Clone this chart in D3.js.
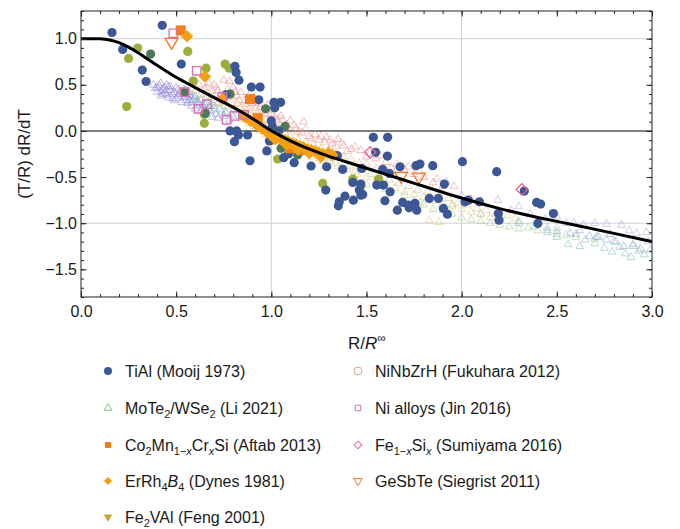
<!DOCTYPE html>
<html>
<head>
<meta charset="utf-8">
<script src="https://cdn.jsdelivr.net/npm/d3@7"></script>
<style>
  body { margin: 0; background: #fff; }
  svg text { font-family: "Liberation Sans", Arial, sans-serif; fill: #1a1a1a; }
</style>
</head>
<body>
<div id="chart"></div>
<script>
// ---- data: [R/R∞, (T/R) dR/dT] ----
const curveR = [0, 0.05, 0.1, 0.15, 0.2, 0.25, 0.3, 0.35, 0.4, 0.45, 0.5, 0.55, 0.6, 0.65, 0.7, 0.75, 0.8, 0.85, 0.9, 0.95, 1.0, 1.1, 1.2, 1.3, 1.4, 1.5, 1.6, 1.7, 1.8, 1.9, 2.0, 2.2, 2.4, 2.6, 2.8, 3.0];
const curveV = [1, 1, 1, 0.99, 0.96, 0.91, 0.85, 0.78, 0.71, 0.645, 0.58, 0.525, 0.47, 0.415, 0.36, 0.31, 0.256, 0.198, 0.137, 0.068, 0, -0.11, -0.2, -0.275, -0.34, -0.405, -0.47, -0.535, -0.6, -0.665, -0.73, -0.845, -0.94, -1.02, -1.11, -1.2];

// MoTe2/WSe2 (Li 2021), several sample sets
const triPurpleL = [[0.39,0.46],[0.40,0.42],[0.41,0.49],[0.42,0.38],[0.43,0.45],[0.44,0.41],[0.45,0.50],[0.46,0.36],[0.47,0.44],[0.48,0.40],[0.49,0.33],[0.50,0.47],[0.51,0.38],[0.52,0.43],[0.53,0.31],[0.54,0.36],[0.55,0.44],[0.56,0.30],[0.57,0.39],[0.58,0.27],[0.59,0.34],[0.60,0.24],[0.62,0.30],[0.63,0.21],[0.65,0.18],[0.67,0.25],[0.69,0.15],[0.72,0.14],[0.44,0.47],[0.48,0.35]];
const triPurpleL2 = [[0.38,0.50],[0.40,0.47],[0.42,0.52],[0.43,0.40],[0.45,0.44],[0.46,0.48],[0.49,0.42],[0.51,0.45],[0.53,0.40],[0.55,0.37],[0.57,0.33],[0.59,0.38],[0.61,0.31],[0.64,0.28],[0.66,0.22],[0.68,0.27]];
const triBlueL = [[0.42,0.43],[0.45,0.39],[0.47,0.48],[0.50,0.35],[0.52,0.40],[0.54,0.45],[0.55,0.33],[0.57,0.42],[0.58,0.31],[0.60,0.37],[0.61,0.28],[0.63,0.34],[0.64,0.25],[0.66,0.31],[0.68,0.22],[0.70,0.27],[0.71,0.18],[0.73,0.23],[0.75,0.16],[0.78,0.12],[0.80,0.16],[0.76,0.20]];
const triTealL = [[0.55,0.40],[0.58,0.36],[0.61,0.33],[0.63,0.39],[0.65,0.29],[0.68,0.33],[0.70,0.24],[0.72,0.30],[0.74,0.21],[0.77,0.26],[0.79,0.18],[0.82,0.22],[0.84,0.14],[0.87,0.17],[0.90,0.10],[0.93,0.12],[0.96,0.05],[0.98,0.0]];
const triYellowL = [[0.60,0.44],[0.63,0.40],[0.66,0.36],[0.69,0.38],[0.71,0.31],[0.74,0.33],[0.76,0.28],[0.79,0.30],[0.81,0.23],[0.84,0.25],[0.86,0.19],[0.89,0.20],[0.92,0.14],[0.95,0.10],[0.98,0.06],[1.0,0.02]];
const triRed = [[0.62,0.50],[0.65,0.46],[0.67,0.52],[0.70,0.50],[0.72,0.44],[0.75,0.55],[0.78,0.54],[0.76,0.40],[0.80,0.47],[0.82,0.38],[0.84,0.42],[0.86,0.33],[0.88,0.38],[0.90,0.30],[0.91,0.36],[0.94,0.26],[0.96,0.22],[0.98,0.28],[1.0,0.18],[1.03,0.12],[1.05,0.16],[1.08,0.07],[1.10,0.11],[1.13,0.03],[1.17,0.10],[1.16,-0.02],[1.20,-0.06],[1.23,-0.04],[1.25,-0.10],[1.29,-0.07],[1.32,-0.14],[1.35,-0.09],[1.38,-0.16],[1.42,-0.20],[1.47,-0.21],[1.50,-0.28],[1.55,-0.30],[1.60,-0.34],[1.63,-0.40],[1.70,-0.42],[1.75,-0.47],[1.80,-0.50],[1.85,-0.56],[1.90,-0.60]];
const triRed2 = [[0.66,0.47],[0.69,0.43],[0.71,0.47],[0.73,0.39],[0.77,0.45],[0.79,0.37],[0.81,0.42],[0.83,0.33],[0.87,0.29],[0.89,0.33],[0.92,0.25],[0.95,0.29],[0.97,0.19],[0.99,0.23],[1.02,0.15],[1.04,0.08],[1.06,0.12],[1.09,0.04],[1.12,0.06],[1.14,-0.01],[1.18,0.02],[1.21,-0.08],[1.26,-0.06],[1.28,-0.12],[1.31,-0.10],[1.34,-0.17],[1.37,-0.13],[1.40,-0.22],[1.44,-0.17],[1.52,-0.24],[1.57,-0.27],[1.66,-0.36],[1.72,-0.39],[1.78,-0.44],[1.87,-0.52],[1.92,-0.55],[1.96,-0.60]];
const triOrange = [[0.82,0.30],[0.86,0.26],[0.90,0.22],[0.93,0.17],[0.97,0.12],[1.0,0.07],[1.04,0.03],[1.07,-0.02],[1.10,-0.05],[1.14,-0.09],[1.18,-0.12],[1.22,-0.15],[1.26,-0.19],[1.30,-0.21],[1.34,-0.25],[1.38,-0.28],[1.42,-0.31],[1.46,-0.35],[1.50,-0.36],[1.55,-0.41],[1.60,-0.44],[1.65,-0.48]];
const triGray = [[0.85,0.12],[0.88,0.08],[0.91,0.05],[0.94,0.0],[0.97,-0.04],[1.0,-0.12],[1.03,-0.08],[1.06,-0.16],[1.09,-0.12],[1.12,-0.20],[1.15,-0.24],[1.18,-0.18],[1.21,-0.28],[1.24,-0.25],[1.27,-0.33],[1.31,-0.30],[1.34,-0.35],[1.37,-0.41],[1.41,-0.38],[1.44,-0.44],[1.48,-0.42],[1.52,-0.47],[1.57,-0.50],[1.62,-0.53],[1.67,-0.57],[1.72,-0.60],[1.77,-0.64],[1.82,-0.66],[1.87,-0.70],[1.93,-0.73],[1.98,-0.78],[2.03,-0.80],[2.08,-0.84],[2.13,-0.86],[2.18,-0.90],[2.24,-0.92],[2.28,-0.95]];
const triYellowR = [[1.0,-0.08],[1.05,-0.12],[1.10,-0.16],[1.15,-0.20],[1.20,-0.25],[1.25,-0.30],[1.30,-0.33],[1.35,-0.38],[1.40,-0.42],[1.45,-0.47],[1.50,-0.50],[1.55,-0.55],[1.60,-0.58],[1.65,-0.62],[1.70,-0.66],[1.75,-0.69],[1.80,-0.72],[1.85,-0.76],[1.90,-0.79],[1.95,-0.82],[2.0,-0.85],[2.05,-0.88],[2.10,-0.90],[2.15,-0.94],[2.20,-0.96],[1.28,-0.38],[1.42,-0.52],[1.62,-0.68],[1.78,-0.78],[1.83,-0.97],[1.88,-0.99]];
const triGreen = [[1.45,-0.55],[1.50,-0.58],[1.60,-0.63],[1.70,-0.70],[1.75,-0.76],[1.80,-0.80],[1.85,-0.85],[1.90,-0.86],[1.95,-0.90],[2.0,-0.94],[2.05,-0.96],[2.10,-0.98],[2.15,-1.0],[2.20,-1.02],[2.25,-1.04],[2.30,-1.06],[2.35,-1.05],[2.40,-1.08],[2.45,-1.10],[2.50,-1.12],[2.55,-1.13],[2.60,-1.15],[2.70,-1.17],[2.10,-0.90],[2.30,-0.98],[2.50,-1.05],[1.95,-0.80],[2.20,-0.93]];
const triTeal = [[2.30,-1.0],[2.38,-1.04],[2.45,-1.08],[2.50,-1.15],[2.56,-1.23],[2.60,-1.12],[2.65,-1.18],[2.70,-1.22],[2.75,-1.27],[2.79,-1.31],[2.83,-1.26],[2.86,-1.33],[2.89,-1.37],[2.93,-1.30],[2.96,-1.34],[2.99,-1.29],[2.72,-1.15],[2.62,-1.25],[2.80,-1.20],[2.90,-1.25]];
const triBlueR = [[2.45,-1.05],[2.50,-1.09],[2.57,-1.11],[2.62,-1.08],[2.67,-1.14],[2.71,-1.15],[2.76,-1.18],[2.81,-1.20],[2.85,-1.25],[2.90,-1.23],[2.94,-1.28],[2.98,-1.20],[2.55,-1.0],[2.78,-1.12]];
const triPurpleR = [[2.0,-0.70],[2.05,-0.74],[2.10,-0.76],[2.19,-0.75],[2.26,-0.86],[2.30,-0.82],[2.36,-0.90],[2.44,-0.95],[2.50,-0.93],[2.59,-1.0],[2.64,-1.02],[2.70,-1.0],[2.76,-1.01],[2.84,-1.02],[2.88,-1.08],[2.92,-1.11],[2.97,-1.10]];

// TiAl (Mooij 1973)
const tiAl = [[0.163,1.066],[0.427,1.145],[0.219,0.884],[0.322,0.66],[0.342,0.536],[0.527,0.725],[0.809,0.70],[0.815,0.634],[0.83,0.55],[0.895,0.475],[0.941,0.475],[0.934,0.337],[1.014,0.31],[1.049,0.31],[1.018,0.25],[1.0,0.11],[1.005,0.047],[0.76,0.39],[0.783,0.0],[0.818,0.0],[0.827,-0.043],[0.875,-0.043],[0.806,-0.116],[0.888,-0.323],[0.976,-0.217],[0.99,-0.109],[1.04,0.0],[1.065,-0.29],[1.09,-0.25],[1.12,-0.344],[1.209,-0.38],[1.536,-0.069],[1.611,-0.069],[1.61,-0.272],[1.548,-0.232],[1.291,-0.388],[1.347,-0.268],[1.375,-0.417],[1.475,-0.406],[1.585,-0.417],[1.676,-0.388],[1.76,-0.377],[1.781,-0.359],[1.848,-0.377],[1.62,-0.46],[1.286,-0.641],[1.387,-0.707],[1.357,-0.768],[1.352,-0.812],[1.431,-0.75],[1.462,-0.641],[1.471,-0.696],[1.47,-0.576],[1.428,-0.558],[1.48,-0.688],[1.554,-0.587],[1.589,-0.587],[1.624,-0.659],[1.597,-0.757],[1.662,-0.859],[1.69,-0.775],[1.72,-0.804],[1.724,-0.833],[1.764,-0.859],[1.755,-0.786],[1.83,-0.732],[1.878,-0.732],[1.909,-0.576],[1.904,-0.84],[1.925,-0.902],[2.004,-0.333],[2.184,-0.442],[2.018,-0.768],[2.035,-0.75],[2.093,-0.768],[2.193,-0.895],[2.196,-0.967],[2.329,-0.652],[2.394,-0.775],[2.415,-0.793],[2.40,-1.003],[2.482,-0.895]];
const oliveDots = [[0.298,0.899],[0.25,0.786],[0.24,0.264],[0.561,0.862],[0.657,0.68],[0.648,0.18],[0.757,0.725],[0.779,0.68],[0.648,0.083],[0.59,0.54],[1.033,-0.304],[1.27,-0.569],[1.428,-0.522],[1.47,-0.598],[1.563,-0.522]];
const greenDots = [[0.366,0.833],[0.545,0.42],[0.653,0.19],[0.783,0.40],[0.97,0.24],[1.072,0.05],[1.051,-0.188],[1.138,-0.261]];
// Co2Mn1-xCrxSi (Aftab 2013)
const coMnCrSi = [[0.524,1.09],[0.888,0.344],[0.928,0.138],[1.098,-0.188],[1.16,-0.207]];
// ErRh4B4 (Dynes 1981)
const erRhB = [[0.557,1.025],[0.651,0.59],[0.744,0.35],[0.86,0.15],[0.89,0.11],[0.92,0.07],[0.95,0.03],[0.975,-0.01],[0.99,-0.03],[1.01,-0.05],[1.03,-0.07],[1.05,-0.09],[1.07,-0.10],[1.09,-0.12],[1.11,-0.14],[1.13,-0.15],[1.15,-0.17],[1.17,-0.18],[1.19,-0.20],[1.21,-0.21],[1.23,-0.22],[1.25,-0.24],[1.27,-0.25],[1.30,-0.24],[1.32,-0.26],[1.02,-0.09],[1.08,-0.15],[1.14,-0.2],[1.2,-0.24],[1.26,-0.28]];
// Ni alloys (Jin 2016)
const niAlloys = [[0.485,1.058],[0.608,0.652],[0.545,0.42],[0.617,0.24],[0.662,0.29],[0.743,0.366],[0.765,0.12],[0.806,0.163],[0.857,0.174]];
// Fe1-xSix (Sumiyama 2016)
const feSi = [[1.519,-0.232],[2.316,-0.634]];
// GeSbTe (Siegrist 2011)
const geSbTe = [[0.476,0.964],[1.682,-0.489],[1.776,-0.496]];

const xTicks = [0, 0.5, 1.0, 1.5, 2.0, 2.5, 3.0];
const yTicks = [-1.5, -1.0, -0.5, 0, 0.5, 1.0];

const legendLeft = ["TiAl (Mooij 1973)", "MoTe2/WSe2 (Li 2021)", "Co2Mn1-xCrxSi (Aftab 2013)", "ErRh4B4 (Dynes 1981)", "Fe2VAl (Feng 2001)"];
const legendRight = ["NiNbZrH (Fukuhara 2012)", "Ni alloys (Jin 2016)", "Fe1-xSix (Sumiyama 2016)", "GeSbTe (Siegrist 2011)"];

// ---- drawing ----
const W = 680, H = 529;
const svg = d3.select("#chart").append("svg").attr("width", W).attr("height", H);

const x = d3.scaleLinear().domain([0, 3]).range([81, 652]);
const y = d3.scaleLinear().domain([-1.8, 1.3]).range([297, 11]);

svg.append("clipPath").attr("id", "plot").append("rect")
  .attr("x", 81).attr("y", 11).attr("width", 571).attr("height", 286);

// grid lines
const grid = svg.append("g");
[1, 2].forEach(v => grid.append("line").attr("x1", x(v)).attr("x2", x(v)).attr("y1", y(1.3)).attr("y2", y(-1.8)).attr("stroke", "#cfcfcf"));
[1, -1].forEach(v => grid.append("line").attr("x1", x(0)).attr("x2", x(3)).attr("y1", y(v)).attr("y2", y(v)).attr("stroke", "#cfcfcf"));
grid.append("line").attr("x1", x(0)).attr("x2", x(3)).attr("y1", y(0)).attr("y2", y(0)).attr("stroke", "#000").attr("stroke-width", 1.1);

const plot = svg.append("g").attr("clip-path", "url(#plot)");

// triangles of the MoTe2/WSe2 sets
const triGroups = [
  { data: triPurpleL, color: "#9f86dc" },
  { data: triPurpleL2, color: "#8d7fd6" },
  { data: triBlueL, color: "#7f95da" },
  { data: triTealL, color: "#7fc2a6" },
  { data: triYellowL, color: "#e2c46a" },
  { data: triGreen, color: "#9ccc86" },
  { data: triYellowR, color: "#dcc46e" },
  { data: triGray, color: "#c9c38e" },
  { data: triTeal, color: "#7dbfb5" },
  { data: triBlueR, color: "#8aa4da" },
  { data: triPurpleR, color: "#b49be0" },
  { data: triOrange, color: "#f3a86a" },
  { data: triRed2, color: "#f29c9c" },
  { data: triRed, color: "#ef8585" },
];
const tri = d3.symbol().type(d3.symbolTriangle).size(26);
triGroups.forEach(g => {
  plot.append("g").selectAll("path").data(g.data).join("path")
    .attr("d", tri)
    .attr("transform", d => `translate(${x(d[0])},${y(d[1])})`)
    .attr("fill", "none")
    .attr("stroke", g.color)
    .attr("stroke-width", 0.8)
    .attr("opacity", 0.7);
});

function dots(data, color, r) {
  plot.append("g").selectAll("circle").data(data).join("circle")
    .attr("cx", d => x(d[0])).attr("cy", d => y(d[1])).attr("r", r)
    .attr("fill", color);
}
dots(oliveDots, "#9dac3c", 4.6);
dots(greenDots, "#4c7a55", 4.6);
dots(tiAl, "#3c5796", 4.6);

function marks(data, type, size, opts) {
  const sym = d3.symbol().type(type).size(size);
  plot.append("g").selectAll("path").data(data).join("path")
    .attr("d", sym)
    .attr("transform", d => `translate(${x(d[0])},${y(d[1])})${opts.rotate ? " rotate(" + opts.rotate + ")" : ""}`)
    .attr("fill", opts.fill || "none")
    .attr("stroke", opts.stroke || "none")
    .attr("stroke-width", opts.sw || 0);
}
marks(coMnCrSi, d3.symbolSquare, 100, { fill: "#f47d16" });
marks(erRhB, d3.symbolSquare, 78, { fill: "#f5a011", rotate: 45 });
marks(niAlloys, d3.symbolSquare, 70, { stroke: "#d874b6", sw: 1.4 });
marks(feSi, d3.symbolSquare, 64, { stroke: "#e9638f", sw: 1.3, rotate: 45 });
marks(geSbTe, d3.symbolTriangle, 70, { stroke: "#f37a22", sw: 1.3, rotate: 180 });

// model curve
const curve = curveR.map((r, i) => [r, curveV[i]]);
plot.append("path")
  .datum(curve)
  .attr("d", d3.line().x(d => x(d[0])).y(d => y(d[1])).curve(d3.curveBasis))
  .attr("fill", "none").attr("stroke", "#000").attr("stroke-width", 3);

// frame and ticks
const fmt = d => d3.format(".1f")(d).replace("-", "\u2212");
const xMinor = d3.range(0, 31).map(i => i / 10);
const yMinor = d3.range(-18, 14).map(i => i / 10);

function axisPair(axisFn, scale, major, minor, pos, labels, pad) {
  const g = svg.append("g").attr("transform", pos);
  g.call(axisFn(scale).tickValues(minor).tickSize(-3).tickFormat(""));
  const g2 = svg.append("g").attr("transform", pos);
  g2.call(axisFn(scale).tickValues(major).tickSize(-5.5).tickPadding(pad).tickFormat(labels ? fmt : ""));
  [g, g2].forEach(s => {
    s.select(".domain").remove();
    s.selectAll("line").attr("stroke", "#222");
  });
  g2.selectAll("text").style("font-size", "16px").attr("fill", "#1a1a1a");
}
axisPair(d3.axisBottom, x, xTicks, xMinor, `translate(0,297)`, true, 9);
axisPair(d3.axisTop, x, xTicks, xMinor, `translate(0,11)`, false, 4);
axisPair(d3.axisLeft, y, yTicks, yMinor, `translate(81,0)`, true, 4);
axisPair(d3.axisRight, y, yTicks, yMinor, `translate(652,0)`, false, 4);

svg.append("rect").attr("x", 81).attr("y", 11).attr("width", 571).attr("height", 286)
  .attr("fill", "none").attr("stroke", "#222").attr("stroke-width", 1);

// axis titles
const xt = svg.append("text").attr("x", 367).attr("y", 349).attr("text-anchor", "middle").style("font-size", "17px");
xt.append("tspan").text("R/");
xt.append("tspan").style("font-style", "italic").text("R");
xt.append("tspan").attr("dy", -7).style("font-size", "12px").text("\u221e");

svg.append("text").attr("transform", "translate(30,154) rotate(-90)").attr("text-anchor", "middle")
  .style("font-size", "17px").text("(T/R) dR/dT");

// legend
const rowY = [371, 408, 445, 481, 517];
function rich(sel, parts) {
  let down = false;
  parts.forEach(p => {
    const t = sel.append("tspan").text(p.t);
    if (p.sub && !down) { t.attr("dy", 4); down = true; }
    else if (!p.sub && down) { t.attr("dy", -4); down = false; }
    if (p.sub) t.style("font-size", "11px");
    if (p.it) t.style("font-style", "italic");
  });
}
const leftParts = [
  [{ t: legendLeft[0] }],
  [{ t: "MoTe" }, { t: "2", sub: 1 }, { t: "/WSe" }, { t: "2", sub: 1 }, { t: " (Li 2021)" }],
  [{ t: "Co" }, { t: "2", sub: 1 }, { t: "Mn" }, { t: "1\u2212", sub: 1 }, { t: "x", sub: 1, it: 1 }, { t: "Cr" }, { t: "x", sub: 1, it: 1 }, { t: "Si (Aftab 2013)" }],
  [{ t: "ErRh" }, { t: "4", sub: 1 }, { t: "B", it: 1 }, { t: "4", sub: 1 }, { t: " (Dynes 1981)" }],
  [{ t: "Fe" }, { t: "2", sub: 1 }, { t: "VAl (Feng 2001)" }],
];
const rightParts = [
  [{ t: legendRight[0] }],
  [{ t: legendRight[1] }],
  [{ t: "Fe" }, { t: "1\u2212", sub: 1 }, { t: "x", sub: 1, it: 1 }, { t: "Si" }, { t: "x", sub: 1, it: 1 }, { t: " (Sumiyama 2016)" }],
  [{ t: legendRight[3] }],
];
const lg = svg.append("g");
leftParts.forEach((p, i) => rich(lg.append("text").attr("x", 125).attr("y", rowY[i] + 5.5).style("font-size", "16px"), p));
rightParts.forEach((p, i) => rich(lg.append("text").attr("x", 375).attr("y", rowY[i] + 5.5).style("font-size", "16px"), p));

const lsym = (type, size, cx, cy, fill, stroke, rot) => lg.append("path")
  .attr("d", d3.symbol().type(type).size(size))
  .attr("transform", `translate(${cx},${cy})${rot ? " rotate(" + rot + ")" : ""}`)
  .attr("fill", fill).attr("stroke", stroke || "none").attr("stroke-width", 1);
lg.append("circle").attr("cx", 108).attr("cy", rowY[0]).attr("r", 4).attr("fill", "#3c5796");
lsym(d3.symbolTriangle, 26, 108, rowY[1], "none", "#8cc08a");
lsym(d3.symbolSquare, 36, 108, rowY[2], "#f47d16");
lsym(d3.symbolSquare, 34, 108, rowY[3], "#f5a011", null, 45);
lsym(d3.symbolTriangle, 30, 108, rowY[4], "#c8a22a", null, 180);
lg.append("circle").attr("cx", 358).attr("cy", rowY[0]).attr("r", 4).attr("fill", "none").attr("stroke", "#d8a487");
lsym(d3.symbolSquare, 30, 358, rowY[1], "none", "#d874b6");
lsym(d3.symbolSquare, 30, 358, rowY[2], "none", "#e9638f", 45);
lsym(d3.symbolTriangle, 30, 358, rowY[3], "none", "#f37a22", 180);
</script>
</body>
</html>
